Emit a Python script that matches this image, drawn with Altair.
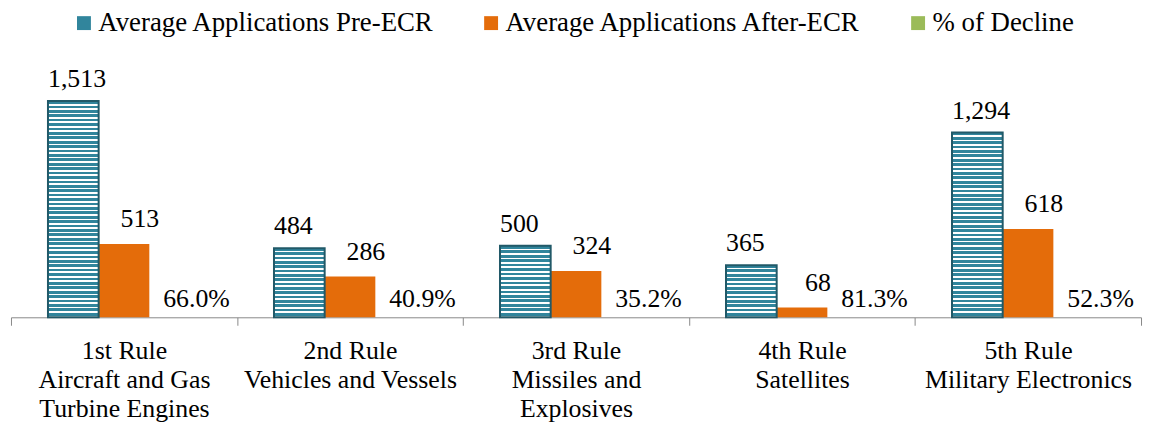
import altair as alt
import pandas as pd

# ---- data ----
categories = [
    "1st Rule|Aircraft and Gas|Turbine Engines",
    "2nd Rule|Vehicles and Vessels",
    "3rd Rule|Missiles and|Explosives",
    "4th Rule|Satellites",
    "5th Rule|Military Electronics",
]
pre_ecr = [1513, 484, 500, 365, 1294]
after_ecr = [513, 286, 324, 68, 618]
decline_pct = [66.0, 40.9, 35.2, 81.3, 52.3]
series = ["Average Applications Pre-ECR", "Average Applications After-ECR", "% of Decline"]
colors = ["#31859C", "#E46C0A", "#9BBB59"]

rows = []
for c, p, a, d in zip(categories, pre_ecr, after_ecr, decline_pct):
    rows.append({"cat": c, "series": series[0], "value": p, "label": f"{p:,}"})
    rows.append({"cat": c, "series": series[1], "value": a, "label": f"{a:,}"})
    rows.append({"cat": c, "series": series[2], "value": d / 100.0, "label": f"{d:.1f}%"})
df = pd.DataFrame(rows)

W, H = 1138, 259
YMAX = 1800
PX_PER_UNIT = H / YMAX
FONT = "Liberation Serif"
STRIPE = "#31859C"
BORDER = "#215968"

x_enc = alt.X(
    "cat:N",
    sort=categories,
    title=None,
    scale=alt.Scale(domain=categories, paddingInner=0, paddingOuter=0),
    axis=alt.Axis(
        labelExpr="split(datum.label, '|')",
        labelAngle=0,
        labelFont=FONT,
        labelFontSize=26,
        labelLineHeight=29,
        labelColor="#000000",
        labelPadding=13,
        labelBaseline="top",
        labelLimit=0,
        tickBand="extent",
        tickSize=8,
        tickColor="#888888",
        domainColor="#888888",
        grid=False,
    ),
)
xo_enc = alt.XOffset("series:N", sort=series,
                     scale=alt.Scale(domain=series, paddingInner=0, paddingOuter=0.73))
y_enc = alt.Y("value:Q", scale=alt.Scale(domain=[0, YMAX]), axis=None)

base = alt.Chart(df).encode(x=x_enc, xOffset=xo_enc, y=y_enc)

bars = base.mark_bar().encode(
    color=alt.Color(
        "series:N",
        sort=series,
        scale=alt.Scale(domain=series, range=colors),
        legend=alt.Legend(
            title=None,
            orient="none",
            legendX=60,
            legendY=-51,
            direction="horizontal",
            symbolType="square",
            symbolSize=196,
            symbolStrokeWidth=0,
            labelFont=FONT,
            labelFontSize=27,
            labelColor="#000000",
            labelOffset=1,
            columnPadding=43,
            padding=0,
            labelLimit=0,
        ),
    )
)

# horizontal-stripe fill for the Pre-ECR bars (one gradient per bar so that stripe spacing is constant)
stripe_layers = []
for c, p in zip(categories, pre_ecr):
    n = max(1, round(p * PX_PER_UNIT / 4.4))
    stops = []
    for i in range(n):
        stops += [
            {"color": STRIPE, "offset": i / n},
            {"color": STRIPE, "offset": (i + 0.62) / n},
            {"color": "#ffffff", "offset": (i + 0.62) / n},
            {"color": "#ffffff", "offset": (i + 1) / n},
        ]
    grad = {"gradient": "linear", "x1": 0, "y1": 0, "x2": 0, "y2": 1, "stops": stops}
    stripe_layers.append(
        base.transform_filter(
            (alt.datum.series == series[0]) & (alt.datum.cat == c)
        ).mark_bar(fill=grad, stroke=BORDER, strokeWidth=2)
    )

txt = dict(font=FONT, fontSize=26, color="#000000", baseline="alphabetic")
pre_text = base.transform_filter(alt.datum.series == series[0]).mark_text(
    align="left", dx=-25.5, dy=-14, **txt).encode(text="label:N")
after_text = base.transform_filter(alt.datum.series == series[1]).mark_text(
    align="center", dx=16, dy=-17, **txt).encode(text="label:N")
pct_text = base.transform_filter(alt.datum.series == series[2]).mark_text(
    align="center", dx=22, dy=-10, **txt).encode(text="label:N")

chart = alt.layer(bars, *stripe_layers, pre_text, after_text, pct_text).properties(
    width=W, height=H,
    autosize=alt.AutoSizeParams(type="none"),
    padding={"left": 3, "top": 51, "right": 4, "bottom": 108},
).configure_view(stroke=None)

chart.save("out.html", embed_options={"renderer": "svg", "actions": False})
